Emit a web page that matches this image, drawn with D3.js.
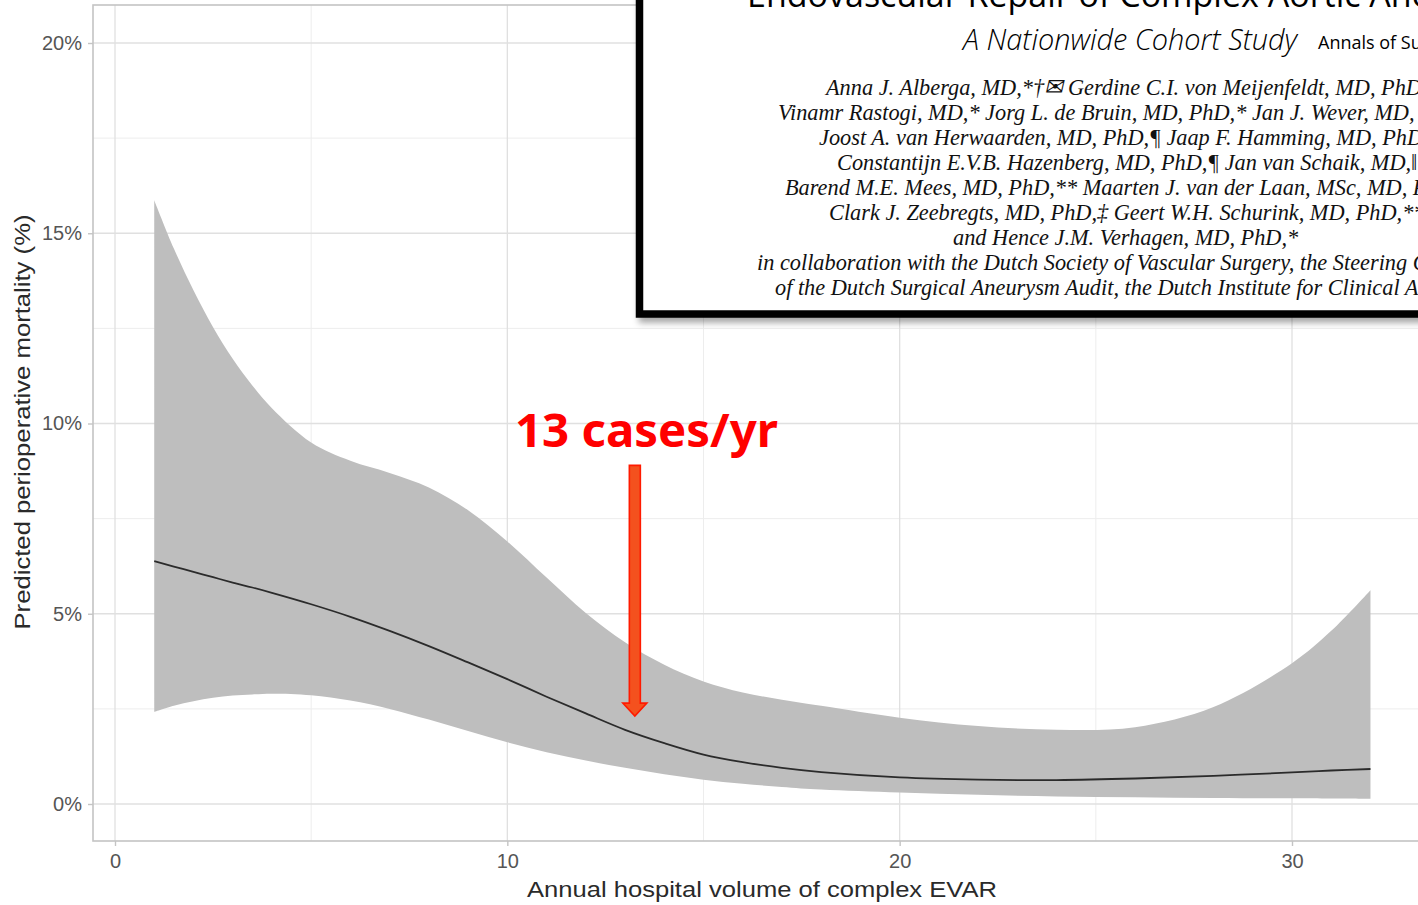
<!DOCTYPE html>
<html>
<head>
<meta charset="utf-8">
<script src="https://cdn.jsdelivr.net/npm/d3@7"></script>
<style>
  html, body { margin: 0; padding: 0; background: #fff; }
  svg { display: block; }
</style>
</head>
<body>
<svg id="chart" width="1418" height="905"></svg>
<script>
// ---------- data ----------
const volume = [1, 1.5, 2, 2.5, 3, 3.5, 4, 5, 6, 7, 8, 9, 10, 11, 12, 13, 14, 15, 16, 17, 18, 20, 22, 24, 26, 28, 30, 31, 32];
const fitMortality = [6.38, 6.24, 6.1, 5.96, 5.82, 5.69, 5.55, 5.25, 4.92, 4.55, 4.15, 3.72, 3.28, 2.82, 2.38, 1.95, 1.6, 1.3, 1.1, 0.95, 0.84, 0.7, 0.64, 0.63, 0.67, 0.74, 0.83, 0.88, 0.92];
const upperCI = [15.87, 14.6, 13.5, 12.53, 11.7, 11.0, 10.4, 9.5, 9.02, 8.7, 8.32, 7.72, 6.9, 5.95, 5.02, 4.25, 3.66, 3.22, 2.93, 2.74, 2.58, 2.27, 2.05, 1.95, 2.02, 2.55, 3.7, 4.55, 5.62];
const lowerCI = [2.42, 2.58, 2.7, 2.79, 2.85, 2.88, 2.9, 2.86, 2.72, 2.5, 2.22, 1.92, 1.62, 1.36, 1.14, 0.95, 0.78, 0.64, 0.53, 0.45, 0.38, 0.3, 0.24, 0.2, 0.18, 0.16, 0.15, 0.145, 0.14];

const xMajorTicks = [0, 10, 20, 30];
const xMinorTicks = [5, 15, 25];
const yMajorTicks = [0, 5, 10, 15, 20];
const yMinorTicks = [2.5, 7.5, 12.5, 17.5];
const xTickLabels = ["0", "10", "20", "30"];
const yTickLabels = ["0%", "5%", "10%", "15%", "20%"];

const xTitle = "Annual hospital volume of complex EVAR";
const yTitle = "Predicted perioperative mortality (%)";

const annotationText = "13 cases/yr";
const annotationVolume = 13.25;
const annotationFrom = 8.9;   // % (arrow tail)
const annotationTo = 2.31;   // % (arrow tip)

const insetTitle = "Endovascular Repair of Complex Aortic Aneurysms";
const insetSubtitle = "A Nationwide Cohort Study";
const insetJournal = "Annals of Surgery";
const insetAuthors = [
  {t: "Anna J. Alberga, MD,*†✉ Gerdine C.I. von Meijenfeldt, MD, PhD,*", x: 826},
  {t: "Vinamr Rastogi, MD,* Jorg L. de Bruin, MD, PhD,* Jan J. Wever, MD, PhD,†", x: 778},
  {t: "Joost A. van Herwaarden, MD, PhD,¶ Jaap F. Hamming, MD, PhD,‡", x: 819},
  {t: "Constantijn E.V.B. Hazenberg, MD, PhD,¶ Jan van Schaik, MD,‖", x: 837},
  {t: "Barend M.E. Mees, MD, PhD,** Maarten J. van der Laan, MSc, MD, PhD,‡", x: 785},
  {t: "Clark J. Zeebregts, MD, PhD,‡ Geert W.H. Schurink, MD, PhD,**", x: 829},
  {t: "and Hence J.M. Verhagen, MD, PhD,*", x: 953},
  {t: "in collaboration with the Dutch Society of Vascular Surgery, the Steering Committee", x: 757},
  {t: "of the Dutch Surgical Aneurysm Audit, the Dutch Institute for Clinical Auditing", x: 775}
];

// ---------- layout ----------
const svg = d3.select("#chart");
const panel = {left: 93, top: 5, right: 1440, bottom: 841};
const x = d3.scaleLinear().domain([0, 30]).range([115, 1292]);
const y = d3.scaleLinear().domain([0, 20]).range([804, 43]);

svg.append("rect").attr("width", 1418).attr("height", 905).attr("fill", "#fff");

// grid
const grid = svg.append("g");
grid.selectAll(".xminor").data(xMinorTicks).join("line")
  .attr("x1", d => x(d)).attr("x2", d => x(d))
  .attr("y1", panel.top).attr("y2", panel.bottom)
  .attr("stroke", "#ededed").attr("stroke-width", 1);
grid.selectAll(".yminor").data(yMinorTicks).join("line")
  .attr("y1", d => y(d)).attr("y2", d => y(d))
  .attr("x1", panel.left).attr("x2", panel.right)
  .attr("stroke", "#ededed").attr("stroke-width", 1);
grid.selectAll(".xmajor").data(xMajorTicks).join("line")
  .attr("x1", d => x(d)).attr("x2", d => x(d))
  .attr("y1", panel.top).attr("y2", panel.bottom)
  .attr("stroke", "#e0e0e0").attr("stroke-width", 1.3);
grid.selectAll(".ymajor").data(yMajorTicks).join("line")
  .attr("y1", d => y(d)).attr("y2", d => y(d))
  .attr("x1", panel.left).attr("x2", panel.right)
  .attr("stroke", "#e0e0e0").attr("stroke-width", 1.3);

// band and line
const pts = volume.map((v, i) => ({v, f: fitMortality[i], lo: lowerCI[i], hi: upperCI[i]}));
const area = d3.area().x(d => x(d.v)).y0(d => y(d.lo)).y1(d => y(d.hi)).curve(d3.curveCatmullRom.alpha(0.5));
const line = d3.line().x(d => x(d.v)).y(d => y(d.f)).curve(d3.curveCatmullRom.alpha(0.5));
svg.append("path").datum(pts).attr("d", area).attr("fill", "#bebebe");
svg.append("path").datum(pts).attr("d", line).attr("fill", "none")
  .attr("stroke", "#2b2b2b").attr("stroke-width", 1.8);

// panel border
svg.append("rect")
  .attr("x", panel.left).attr("y", panel.top)
  .attr("width", panel.right - panel.left).attr("height", panel.bottom - panel.top)
  .attr("fill", "none").attr("stroke", "#c4c4c4").attr("stroke-width", 1.6);

// axes
const xAxis = d3.axisBottom(x).tickValues(xMajorTicks)
  .tickFormat((d, i) => xTickLabels[i]).tickSize(5).tickPadding(8);
const gx = svg.append("g").attr("transform", `translate(0,${panel.bottom})`).call(xAxis);
const yAxis = d3.axisLeft(y).tickValues(yMajorTicks)
  .tickFormat((d, i) => yTickLabels[i]).tickSize(5).tickPadding(6);
const gy = svg.append("g").attr("transform", `translate(${panel.left},0)`).call(yAxis);
[gx, gy].forEach(g => {
  g.select(".domain").remove();
  g.selectAll(".tick line").attr("stroke", "#c4c4c4").attr("stroke-width", 1.4);
  g.selectAll(".tick text").attr("fill", "#555").attr("font-size", 20)
    .attr("font-family", "Liberation Sans, Arial, sans-serif");
});

// axis titles
svg.append("text").attr("x", 762).attr("y", 897).attr("text-anchor", "middle")
  .attr("font-family", "Liberation Sans, Arial, sans-serif").attr("font-size", 22)
  .attr("fill", "#2a2a2a").attr("textLength", 470).attr("lengthAdjust", "spacingAndGlyphs")
  .text(xTitle);
svg.append("text").attr("transform", "translate(30,422) rotate(-90)").attr("text-anchor", "middle")
  .attr("font-family", "Liberation Sans, Arial, sans-serif").attr("font-size", 22)
  .attr("fill", "#2a2a2a").attr("textLength", 415).attr("lengthAdjust", "spacingAndGlyphs")
  .text(yTitle);

// annotation
const ax = x(annotationVolume), ay0 = y(annotationFrom), ay1 = y(annotationTo);
const sw = 5.5, hw = 12, hh = 13;
svg.append("path")
  .attr("d", `M${ax - sw},${ay0} L${ax + sw},${ay0} L${ax + sw},${ay1 - hh} L${ax + hw},${ay1 - hh} L${ax},${ay1} L${ax - hw},${ay1 - hh} L${ax - sw},${ay1 - hh} Z`)
  .attr("fill", "#f4511e").attr("stroke", "#ff1a00").attr("stroke-width", 1.6);
svg.append("text").attr("x", 515).attr("y", 447)
  .attr("font-family", "Noto Sans, Lato, sans-serif").attr("font-weight", "bold").attr("font-size", 47)
  .attr("fill", "#ff0000").attr("textLength", 263).attr("lengthAdjust", "spacingAndGlyphs")
  .text(annotationText);

// inset (paper header screenshot)
const defs = svg.append("defs");
const f = defs.append("filter").attr("id", "shadow").attr("x", "-10%").attr("y", "-10%").attr("width", "130%").attr("height", "130%");
f.append("feDropShadow").attr("dx", 3).attr("dy", 5).attr("stdDeviation", 3).attr("flood-color", "#000").attr("flood-opacity", 0.35);

const inset = svg.append("g");
inset.append("rect").attr("x", 639.5).attr("y", -30).attr("width", 900).attr("height", 344)
  .attr("fill", "#fff").attr("stroke", "#000").attr("stroke-width", 7.5).attr("filter", "url(#shadow)");

inset.append("text").attr("x", 747).attr("y", 7)
  .attr("font-family", "Open Sans, Noto Sans, sans-serif").attr("font-size", 34).attr("fill", "#000")
  .text(insetTitle);
inset.append("text").attr("x", 963).attr("y", 50)
  .attr("font-family", "Open Sans, Noto Sans, sans-serif").attr("font-style", "italic").attr("font-weight", 300)
  .attr("font-size", 29).attr("fill", "#000")
  .attr("textLength", 334).attr("lengthAdjust", "spacingAndGlyphs")
  .text(insetSubtitle);
inset.append("text").attr("x", 1318).attr("y", 49)
  .attr("font-family", "Open Sans, Noto Sans, sans-serif").attr("font-size", 18).attr("fill", "#000")
  .text(insetJournal);

inset.selectAll(".author").data(insetAuthors).join("text")
  .attr("transform", (d, i) => `translate(${d.x},${95 + i * 25}) scale(0.93,1)`)
  .attr("font-family", "Liberation Serif, Times New Roman, serif").attr("font-style", "italic")
  .attr("font-size", 24).attr("fill", "#111")
  .text(d => d.t);
</script>
</body>
</html>
